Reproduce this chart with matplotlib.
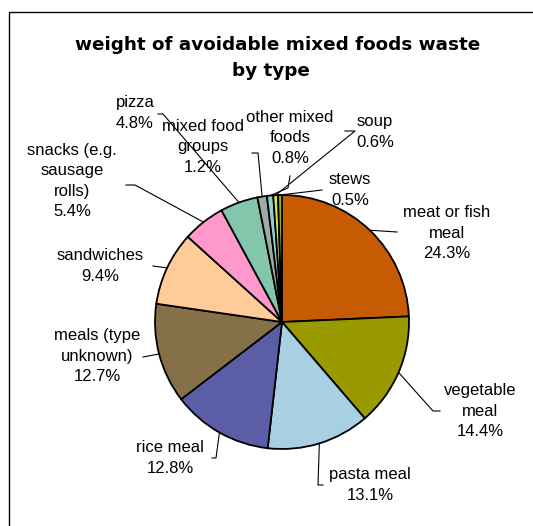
import matplotlib
matplotlib.use("Agg")
import matplotlib.pyplot as plt
from matplotlib.patches import Rectangle
import numpy as np

W, H = 533, 526

# data
labels = ["meat or fish\nmeal", "vegetable\nmeal", "pasta meal", "rice meal",
          "meals (type\nunknown)", "sandwiches", "snacks (e.g.\nsausage\nrolls)",
          "pizza", "mixed food\ngroups", "other mixed\nfoods", "soup", "stews"]
values = [24.3, 14.4, 13.1, 12.8, 12.7, 9.4, 5.4, 4.8, 1.2, 0.8, 0.6, 0.5]
pct_text = ["24.3%", "14.4%", "13.1%", "12.8%", "12.7%", "9.4%", "5.4%",
            "4.8%", "1.2%", "0.8%", "0.6%", "0.5%"]
colors = ["#C65B04", "#999900", "#A8D0E2", "#5B5EA6", "#86704A", "#FFCC99",
          "#FF99CC", "#84C6AC", "#9DACA4", "#8FD0CC", "#E0E060", "#9CB400"]

# label placement (pixel coords, y from top) and leader elbow points
label_pos = [(447, 233), (480, 411), (370, 485), (170, 458), (97, 356),
             (100, 266), (72, 181), (135, 113), (203, 147), (290, 138),
             (375, 132), (350, 190)]
elbows = [[(397, 232)],
          [(440, 411), (433, 411)],
          [(323, 485), (318, 485)],
          [(212, 458), (216, 458)],
          [(143, 357)],
          [(153, 266)],
          [(126, 185), (135, 185)],
          [(158, 114), (163, 114)],
          [(252, 153), (258, 153)],
          [(290, 176), (288, 188)],
          [(345, 131), (355, 131)],
          [(322, 190)]]

cx, cy, r = 282, 322, 127

fig = plt.figure(figsize=(W / 100, H / 100), dpi=100)
ax = fig.add_axes([0, 0, 1, 1])

def Y(y):
    return H - y

wedges, _ = ax.pie(values, colors=colors, startangle=90, counterclock=False,
                   center=(cx, Y(cy)), radius=r,
                   wedgeprops=dict(edgecolor="black", linewidth=1.3))

ax.set_xlim(0, W)
ax.set_ylim(0, H)
ax.set_aspect("equal")
ax.axis("off")

# leaders + labels
for w, lab, pct, (lx, ly), elb in zip(wedges, labels, pct_text, label_pos, elbows):
    mid = np.deg2rad((w.theta1 + w.theta2) / 2)
    ex, ey = cx + r * np.cos(mid), Y(cy) + r * np.sin(mid)
    pts = [(x, Y(y)) for x, y in elb] + [(ex, ey)]
    ax.plot([p[0] for p in pts], [p[1] for p in pts], color="black", lw=0.8)
    ax.text(lx, Y(ly), lab + "\n" + pct, ha="center", va="center",
            fontsize=12, family="Liberation Sans", linespacing=1.42)

ax.text(278, Y(45), "weight of avoidable mixed foods waste", ha="center", va="center",
        fontsize=13.2, fontweight="bold", family="DejaVu Sans")
ax.text(271, Y(71), "by type", ha="center", va="center",
        fontsize=13.2, fontweight="bold", family="DejaVu Sans")

# chart area frame
ax.add_patch(Rectangle((9, -10), W + 10, Y(12) + 10, fill=False, edgecolor="black",
                       lw=1.0, clip_on=False))

fig.savefig("out.png", dpi=100)
